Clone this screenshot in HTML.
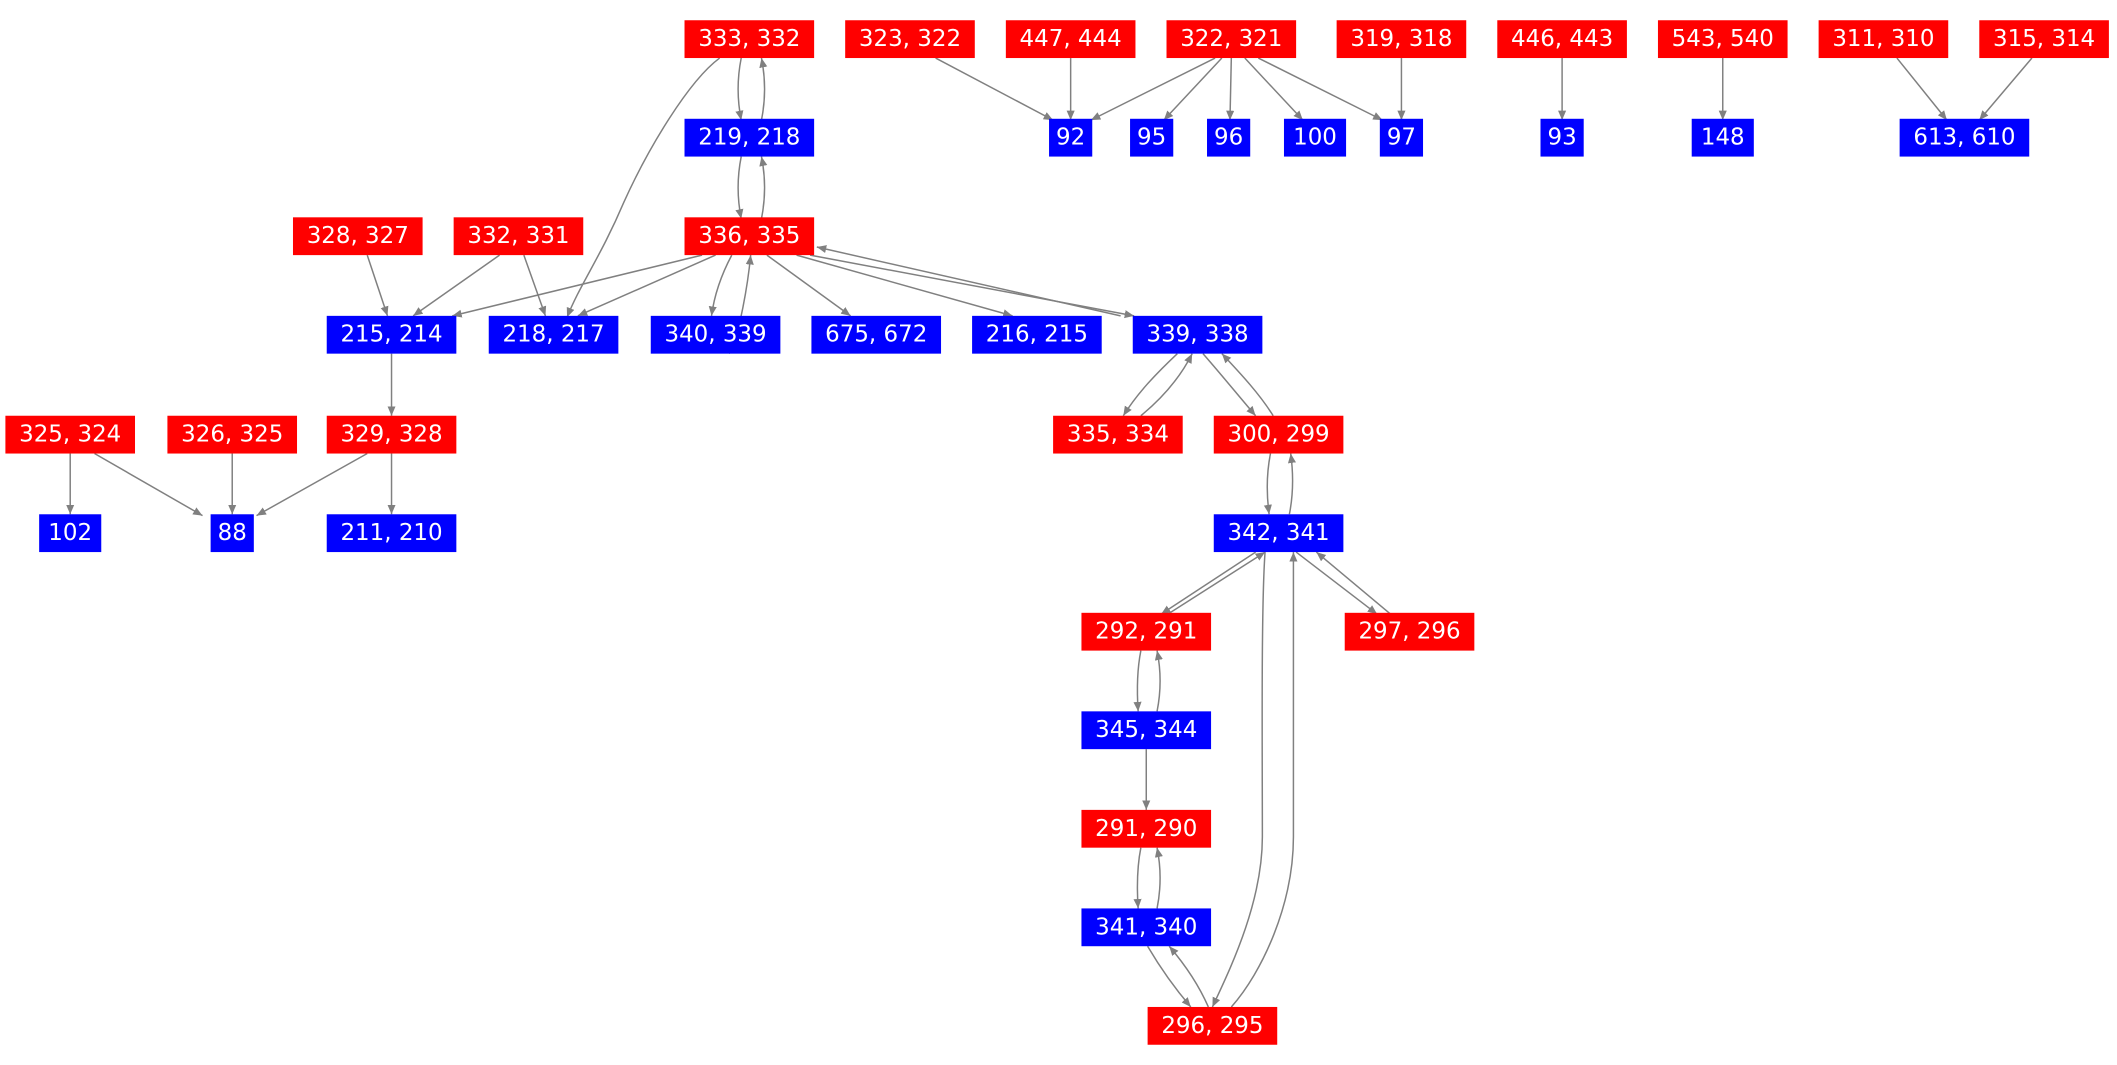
<!DOCTYPE html>
<html><head><style>
html,body{margin:0;padding:0;background:#fff;}
svg{display:block;}
text{font-family:"DejaVu Sans","Liberation Sans",sans-serif;font-size:17px;fill:#fff;text-anchor:middle;dominant-baseline:central;}
path{fill:none;stroke:#808080;stroke-width:1.1;}
</style></head><body>
<svg width="2117" height="1065" viewBox="0 0 1568 789" preserveAspectRatio="none" xmlns="http://www.w3.org/2000/svg">
<defs><marker id="a" markerWidth="8" markerHeight="8" refX="7" refY="4" orient="auto" markerUnits="userSpaceOnUse"><path d="M0,1 L7,4 L0,7 Z" style="fill:#808080;stroke:none"/></marker></defs>
<g marker-end="url(#a)">
<path d="M549,43 C546,58 546,74 549,89"/>
<path d="M564,89 C567,74 567,58 564,43"/>
<path d="M533,43 C510,60 480,110 462,150 C445,190 430,210 420,235"/>
<path d="M549,116 C546,131 546,147 549,162"/>
<path d="M564,162 C567,147 567,131 564,116"/>
<path d="M693,43 L780,89"/>
<path d="M793,43 L793,89"/>
<path d="M900,43 L808,89"/>
<path d="M905,43 L862,89"/>
<path d="M912,43 L911,89"/>
<path d="M922,43 L965,89"/>
<path d="M932,43 L1024,89"/>
<path d="M1038,43 L1038,89"/>
<path d="M1157,43 L1157,89"/>
<path d="M1276,43 L1276,89"/>
<path d="M1405,43 L1442,89"/>
<path d="M1505,43 L1466,89"/>
<path d="M272,189 L287,234"/>
<path d="M370,189 L306,234"/>
<path d="M388,189 L404,234"/>
<path d="M520,189 L335,234"/>
<path d="M530,189 L428,234"/>
<path d="M542,189 C534,204 529,219 527,234"/>
<path d="M540,262 C548,247 554,210 556,189"/>
<path d="M568,189 L630,234"/>
<path d="M590,189 L750,234"/>
<path d="M600,189 L840,234"/>
<path d="M830,234 L605,183"/>
<path d="M290,262 L290,308"/>
<path d="M52,336 L52,381"/>
<path d="M70,336 L150,382"/>
<path d="M172,336 L172,381"/>
<path d="M272,336 L190,382"/>
<path d="M290,336 L290,381"/>
<path d="M872,262 C855,278 842,292 832,308"/>
<path d="M845,308 C862,294 875,278 883,262"/>
<path d="M891,262 C905,278 918,294 930,308"/>
<path d="M943,308 C933,292 920,278 905,262"/>
<path d="M941,336 C938,351 938,366 940,381"/>
<path d="M955,381 C958,366 958,351 956,336"/>
<path d="M930,409 L860,455"/>
<path d="M865,455 L937,409"/>
<path d="M960,409 L1020,455"/>
<path d="M1030,455 L975,409"/>
<path d="M845,482 C842,497 842,512 843,527"/>
<path d="M857,527 C860,512 860,497 857,482"/>
<path d="M849,555 L849,600"/>
<path d="M845,628 C842,643 842,658 843,673"/>
<path d="M857,673 C860,658 860,643 857,628"/>
<path d="M850,701 C860,718 870,732 882,746"/>
<path d="M895,746 C888,730 878,715 866,701"/>
<path d="M937,409 C934,450 935,560 935,620 C935,670 910,720 898,746"/>
<path d="M912,746 C935,720 958,670 958,620 C958,560 958,450 958,409"/>
</g>
<g>
<rect x="507" y="15" width="96" height="28" fill="#f00"/><text x="555" y="29">333, 332</text>
<rect x="626" y="15" width="96" height="28" fill="#f00"/><text x="674" y="29">323, 322</text>
<rect x="745" y="15" width="96" height="28" fill="#f00"/><text x="793" y="29">447, 444</text>
<rect x="864" y="15" width="96" height="28" fill="#f00"/><text x="912" y="29">322, 321</text>
<rect x="990" y="15" width="96" height="28" fill="#f00"/><text x="1038" y="29">319, 318</text>
<rect x="1109" y="15" width="96" height="28" fill="#f00"/><text x="1157" y="29">446, 443</text>
<rect x="1228" y="15" width="96" height="28" fill="#f00"/><text x="1276" y="29">543, 540</text>
<rect x="1347" y="15" width="96" height="28" fill="#f00"/><text x="1395" y="29">311, 310</text>
<rect x="1466" y="15" width="96" height="28" fill="#f00"/><text x="1514" y="29">315, 314</text>

<rect x="507" y="88" width="96" height="28" fill="#00f"/><text x="555" y="102">219, 218</text>
<rect x="777" y="88" width="32" height="28" fill="#00f"/><text x="793" y="102">92</text>
<rect x="837" y="88" width="32" height="28" fill="#00f"/><text x="853" y="102">95</text>
<rect x="894" y="88" width="32" height="28" fill="#00f"/><text x="910" y="102">96</text>
<rect x="951" y="88" width="46" height="28" fill="#00f"/><text x="974" y="102">100</text>
<rect x="1022" y="88" width="32" height="28" fill="#00f"/><text x="1038" y="102">97</text>
<rect x="1141" y="88" width="32" height="28" fill="#00f"/><text x="1157" y="102">93</text>
<rect x="1253" y="88" width="46" height="28" fill="#00f"/><text x="1276" y="102">148</text>
<rect x="1407" y="88" width="96" height="28" fill="#00f"/><text x="1455" y="102">613, 610</text>

<rect x="217" y="161" width="96" height="28" fill="#f00"/><text x="265" y="175">328, 327</text>
<rect x="336" y="161" width="96" height="28" fill="#f00"/><text x="384" y="175">332, 331</text>
<rect x="507" y="161" width="96" height="28" fill="#f00"/><text x="555" y="175">336, 335</text>

<rect x="242" y="234" width="96" height="28" fill="#00f"/><text x="290" y="248">215, 214</text>
<rect x="362" y="234" width="96" height="28" fill="#00f"/><text x="410" y="248">218, 217</text>
<rect x="482" y="234" width="96" height="28" fill="#00f"/><text x="530" y="248">340, 339</text>
<rect x="601" y="234" width="96" height="28" fill="#00f"/><text x="649" y="248">675, 672</text>
<rect x="720" y="234" width="96" height="28" fill="#00f"/><text x="768" y="248">216, 215</text>
<rect x="839" y="234" width="96" height="28" fill="#00f"/><text x="887" y="248">339, 338</text>

<rect x="4" y="308" width="96" height="28" fill="#f00"/><text x="52" y="322">325, 324</text>
<rect x="124" y="308" width="96" height="28" fill="#f00"/><text x="172" y="322">326, 325</text>
<rect x="242" y="308" width="96" height="28" fill="#f00"/><text x="290" y="322">329, 328</text>
<rect x="780" y="308" width="96" height="28" fill="#f00"/><text x="828" y="322">335, 334</text>
<rect x="899" y="308" width="96" height="28" fill="#f00"/><text x="947" y="322">300, 299</text>

<rect x="29" y="381" width="46" height="28" fill="#00f"/><text x="52" y="395">102</text>
<rect x="156" y="381" width="32" height="28" fill="#00f"/><text x="172" y="395">88</text>
<rect x="242" y="381" width="96" height="28" fill="#00f"/><text x="290" y="395">211, 210</text>
<rect x="899" y="381" width="96" height="28" fill="#00f"/><text x="947" y="395">342, 341</text>

<rect x="801" y="454" width="96" height="28" fill="#f00"/><text x="849" y="468">292, 291</text>
<rect x="996" y="454" width="96" height="28" fill="#f00"/><text x="1044" y="468">297, 296</text>
<rect x="801" y="527" width="96" height="28" fill="#00f"/><text x="849" y="541">345, 344</text>
<rect x="801" y="600" width="96" height="28" fill="#f00"/><text x="849" y="614">291, 290</text>
<rect x="801" y="673" width="96" height="28" fill="#00f"/><text x="849" y="687">341, 340</text>
<rect x="850" y="746" width="96" height="28" fill="#f00"/><text x="898" y="760">296, 295</text>
</g>
</svg>
</body></html>
